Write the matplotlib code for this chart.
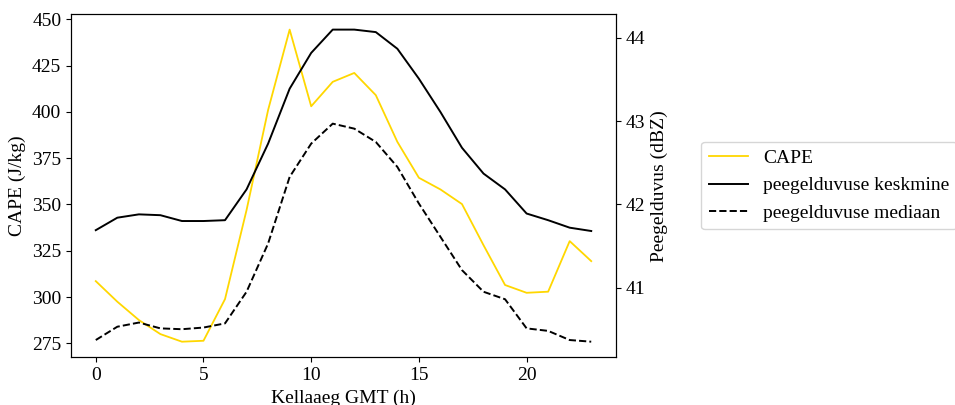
import numpy as np
import matplotlib
matplotlib.use("Agg")
import matplotlib.pyplot as plt

plt.rcParams['font.family'] = ['Liberation Serif', 'DejaVu Serif']
plt.rcParams['font.size'] = 14

# hourly values (GMT hour)
hours = np.arange(24)
cape = [308.6, 297.5, 287.6, 280.0, 275.9, 276.4, 298.9, 347.0, 401.0, 444.4,
        403.0, 416.2, 421.0, 409.0, 383.8, 364.4, 358.1, 350.2, 328.0, 306.5,
        302.3, 302.9, 330.2, 319.4]
refl_mean = [41.69, 41.84, 41.88, 41.87, 41.80, 41.80, 41.81, 42.18, 42.73, 43.39,
             43.82, 44.10, 44.10, 44.07, 43.87, 43.51, 43.11, 42.68, 42.37, 42.18,
             41.89, 41.81, 41.72, 41.68]
refl_median = [40.37, 40.53, 40.58, 40.51, 40.50, 40.52, 40.57, 40.95, 41.53, 42.33,
               42.73, 42.97, 42.91, 42.75, 42.45, 42.01, 41.61, 41.21, 40.95, 40.86,
               40.51, 40.48, 40.37, 40.35]

fig = plt.figure(figsize=(9.55, 4.05), dpi=100)
ax1 = fig.add_axes([71/955, 1 - 357.3/405, (616 - 71)/955, (357.3 - 14)/405])
ax2 = ax1.twinx()

l1, = ax1.plot(hours, cape, color='gold', linewidth=1.3, label='CAPE')
l2, = ax2.plot(hours, refl_mean, color='black', linewidth=1.4, label='peegelduvuse keskmine')
l3, = ax2.plot(hours, refl_median, color='black', linewidth=1.4, linestyle='--',
               label='peegelduvuse mediaan')

ax1.set_xlabel('Kellaaeg GMT (h)')
ax1.set_ylabel('CAPE (J/kg)')
ax2.set_ylabel('Peegelduvus (dBZ)')
ax1.set_xticks([0, 5, 10, 15, 20])
ax2.set_yticks([41, 42, 43, 44])

# legend sits outside the axes, to the right
fig.legend(handles=[l1, l2, l3], loc='center left', borderaxespad=0,
           bbox_to_anchor=(701/955, 1 - 185.5/405), fontsize=14)

fig.savefig('out.png', dpi=100)
